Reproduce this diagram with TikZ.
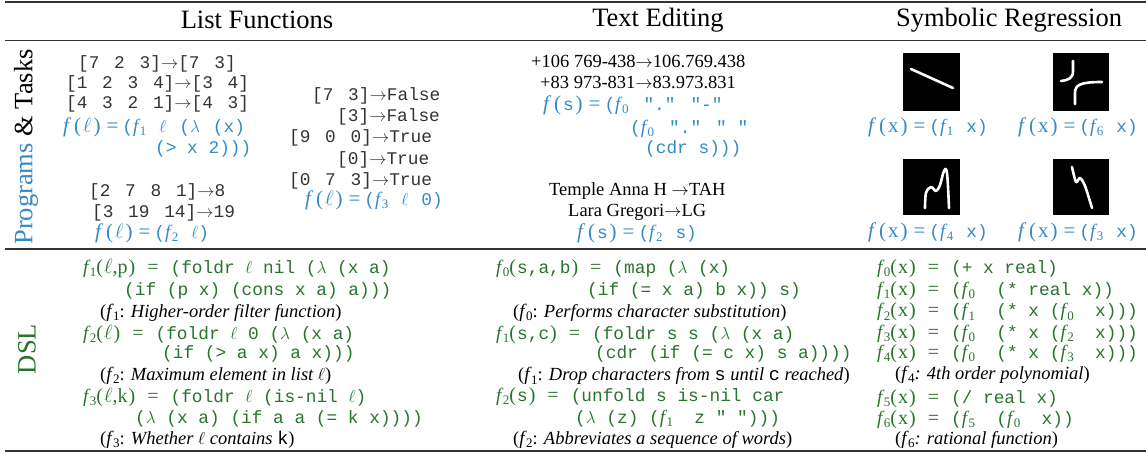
\documentclass[tikz,border=0pt]{standalone}
\usepackage{fontspec}
\setmainfont{Liberation Serif}
\setmonofont{Liberation Mono}
\definecolor{pblue}{RGB}{52,138,199}
\definecolor{dgreen}{RGB}{40,115,45}
\definecolor{rulegray}{RGB}{50,50,50}
\newcommand\Fn[1]{{\fontsize{19}{20}\selectfont\rmfamily\itshape f\kern1.5pt}{\fontsize{13}{13}\selectfont\rmfamily\upshape\raisebox{-3pt}{#1}}}
\newcommand\Pre[1]{{\fontsize{21}{21}\selectfont\rmfamily\itshape f\kern5pt\upshape(\kern2pt#1\kern2pt)\kern6pt=\kern4pt}}
\newcommand\Dp[1]{{\fontsize{20}{20}\selectfont\rmfamily(\kern1pt#1\kern1pt)}\hspace{12pt}{\fontsize{20}{20}\selectfont\rmfamily=}\hspace{12pt}}
\newcommand\mtt[1]{{\fontsize{17.8}{20}\selectfont\ttfamily #1}}
\newcommand\ls{\hspace{14.7pt}}
\newcommand\gp{\hspace{13pt}}
\tikzset{
  txt/.style={inner sep=0pt, anchor=west, text height=13pt, text depth=1pt},
  mono/.style={txt, font=\fontsize{17.8}{20}\selectfont\ttfamily, text=black!80},
  serif/.style={txt, font=\fontsize{18.5}{21}\selectfont\rmfamily},
  hdr/.style={inner sep=0pt, font=\fontsize{26.5}{30}\selectfont\rmfamily},
  prog/.style={text=pblue},
  code/.style={text=dgreen},
  rulel/.style={draw=rulegray},
  curve/.style={white, line width=2.6pt, line cap=round, line join=round}
}
\begin{document}
\begin{tikzpicture}[x=1pt,y=-1pt]
\useasboundingbox (0,0) rectangle (1146,454);
% rules
\draw[rulel, line width=2.2pt] (5,2) -- (1146,2);
\draw[rulel, line width=1pt] (5,41) -- (1146,41);
\draw[rulel, line width=1.2pt] (5,249) -- (1146,249);
\draw[rulel, line width=1.6pt] (5,451) -- (1146,451);
% headers
\node[hdr] (h1) at (257,20) {List Functions};
\node[hdr] (h2) at (658,20) {Text Editing};
\node[hdr] (h3) at (1009,20) {Symbolic Regression};
% row labels
\node[hdr, rotate=90] (rl1) at (26,147) {\textcolor{pblue}{Programs} \& Tasks};
\node[hdr, rotate=90, text=dgreen] (rl2) at (27,349) {DSL};
% list functions: programs and tasks
\node[mono] (l1) at (78,63) {[7\ls 2\ls 3]$\rightarrow$[7\ls 3]};
\node[mono] (l2) at (66,83) {[1\ls 2\ls 3\ls 4]$\rightarrow$[3\ls 4]};
\node[mono] (l3) at (66,103) {[4\ls 3\ls 2\ls 1]$\rightarrow$[4\ls 3]};
\node[mono,prog] (l4) at (63,127) {\Pre{$\ell$}(\Fn{1}\gp$\ell$\gp($\lambda$\gp(x)};
\node[mono,prog] (l5) at (155,148) {(> x 2)))};
\node[mono] (l6) at (89,191) {[2\ls 7\ls 8\ls 1]$\rightarrow$8};
\node[mono] (l7) at (92,212) {[3\ls 19\ls 14]$\rightarrow$19};
\node[mono,prog] (l8) at (95,233) {\Pre{$\ell$}(\Fn{2}\gp$\ell$)};
\node[mono] (m1) at (312,95) {[7\ls 3]$\rightarrow$False};
\node[mono] (m2) at (337,116) {[3]$\rightarrow$False};
\node[mono] (m3) at (289,137) {[9\ls 0\ls 0]$\rightarrow$True};
\node[mono] (m4) at (337,159) {[0]$\rightarrow$True};
\node[mono] (m5) at (289,180) {[0\ls 7\ls 3]$\rightarrow$True};
\node[mono,prog] (m6) at (305,200) {\Pre{$\ell$}(\Fn{3}\gp$\ell$\gp0)};
% text editing
\node[serif] (t1) at (531,62) {+106 769-438$\rightarrow$106.769.438};
\node[serif] (t2) at (540,83) {+83 973-831$\rightarrow$83.973.831};
\node[mono,prog] (t3) at (543,105) {\Pre{\mtt{s}}(\Fn{0}\hspace{15pt}"."\hspace{15pt}"-"};
\node[mono,prog] (t4) at (630,128) {(\Fn{0}\hspace{15pt}"."\hspace{15pt}"~"};
\node[mono,prog] (t5) at (645,148) {(cdr~s)))};
\node[serif] (t6) at (549,190) {Temple Anna H $\rightarrow$TAH};
\node[serif] (t7) at (568,211) {Lara Gregori$\rightarrow$LG};
\node[mono,prog] (t8) at (577,233) {\Pre{\mtt{s}}(\Fn{2}\gp s)};
% symbolic regression images
\fill[black] (903,53) rectangle (960,111);
\draw[curve] (911,69) -- (953,88);
\fill[black] (1053,53) rectangle (1109,111);
\draw[curve] (1061,81) .. controls (1069,80) and (1073,78) .. (1073,71) -- (1073,61);
\draw[curve] (1075,104) -- (1075,93) .. controls (1075,85) and (1080,82) .. (1102,82);
\fill[black] (903,159) rectangle (960,215);
\draw[curve] plot[smooth, tension=0.6] coordinates {(925,208) (926,193) (931,187) (936,191) (940,185) (944,171) (947,173) (949,208)};
\fill[black] (1053,159) rectangle (1109,215);
\draw[curve] plot[smooth, tension=0.5] coordinates {(1072,167) (1076,182) (1080,178) (1085,186) (1092,208)};
\node[mono,prog] (s1) at (868,127) {\Pre{x}(\Fn{1}\gp x)};
\node[mono,prog] (s2) at (1018,127) {\Pre{x}(\Fn{6}\gp x)};
\node[mono,prog] (s3) at (868,232) {\Pre{x}(\Fn{4}\gp x)};
\node[mono,prog] (s4) at (1018,232) {\Pre{x}(\Fn{3}\gp x)};
% DSL list functions
\node[mono,code] (d1) at (83,268) {\Fn{1}\Dp{$\ell$,p}(foldr~$\ell$~nil~($\lambda$~(x~a)};
\node[mono,code] (d2) at (124,290) {(if~(p~x)~(cons~x~a)~a)))};
\node[serif] (d3) at (100,312) {(\Fn{1}: \textit{Higher-order filter function})};
\node[mono,code] (d4) at (83,333) {\Fn{2}\Dp{$\ell$}(foldr~$\ell$~0~($\lambda$~(x~a)};
\node[mono,code] (d5) at (162,353) {(if~(>~a~x)~a~x)))};
\node[serif] (d6) at (100,374) {(\Fn{2}: \textit{Maximum element in list $\ell$})};
\node[mono,code] (d7) at (83,396) {\Fn{3}\Dp{$\ell$,k}(foldr~$\ell$~(is-nil~$\ell$)};
\node[mono,code] (d8) at (135,417) {($\lambda$~(x~a)~(if~a~a~(=~k~x))))};
\node[serif] (d9) at (100,438) {(\Fn{3}: \textit{Whether $\ell$ contains} \texttt{k})};
% DSL text editing
\node[mono,code] (e1) at (496,268) {\Fn{0}\Dp{\mtt{s,a,b}}(map~($\lambda$~(x)};
\node[mono,code] (e2) at (587,290) {(if~(=~x~a)~b~x))~s)};
\node[serif] (e3) at (513,312) {(\Fn{0}: \textit{Performs character substitution})};
\node[mono,code] (e4) at (496,333) {\Fn{1}\Dp{\mtt{s,c}}(foldr~s~s~($\lambda$~(x~a)};
\node[mono,code] (e5) at (595,353) {(cdr~(if~(=~c~x)~s~a))))};
\node[serif] (e6) at (518,375) {(\Fn{1}: \textit{Drop characters from \texttt{\upshape s} until \texttt{\upshape c} reached})};
\node[mono,code] (e7) at (496,395) {\Fn{2}\Dp{\mtt{s}}(unfold~s~is-nil~car};
\node[mono,code] (e8) at (575,417) {($\lambda$~(z)~(\Fn{1}~~z~"~")))};
\node[serif] (e9) at (513,438) {(\Fn{2}: \textit{Abbreviates a sequence of words})};
% DSL symbolic regression
\node[mono,code] (r1) at (877,268) {\Fn{0}\Dp{x}(+~x~real)};
\node[mono,code] (r2) at (877,290) {\Fn{1}\Dp{x}(\Fn{0}~~(*~real~x))};
\node[mono,code] (r3) at (877,311) {\Fn{2}\Dp{x}(\Fn{1}~~(*~x~(\Fn{0}~~x)))};
\node[mono,code] (r4) at (877,332) {\Fn{3}\Dp{x}(\Fn{0}~~(*~x~(\Fn{2}~~x)))};
\node[mono,code] (r5) at (877,353) {\Fn{4}\Dp{x}(\Fn{0}~~(*~x~(\Fn{3}~~x)))};
\node[serif] (r6) at (895,373) {(\Fn{4}\textit{: 4th order polynomial})};
\node[mono,code] (r7) at (877,397) {\Fn{5}\Dp{x}(/~real~x)};
\node[mono,code] (r8) at (877,418) {\Fn{6}\Dp{x}(\Fn{5}~~(\Fn{0}~~x))};
\node[serif] (r9) at (895,438) {(\Fn{6}\textit{: rational function})};
\end{tikzpicture}
\end{document}
